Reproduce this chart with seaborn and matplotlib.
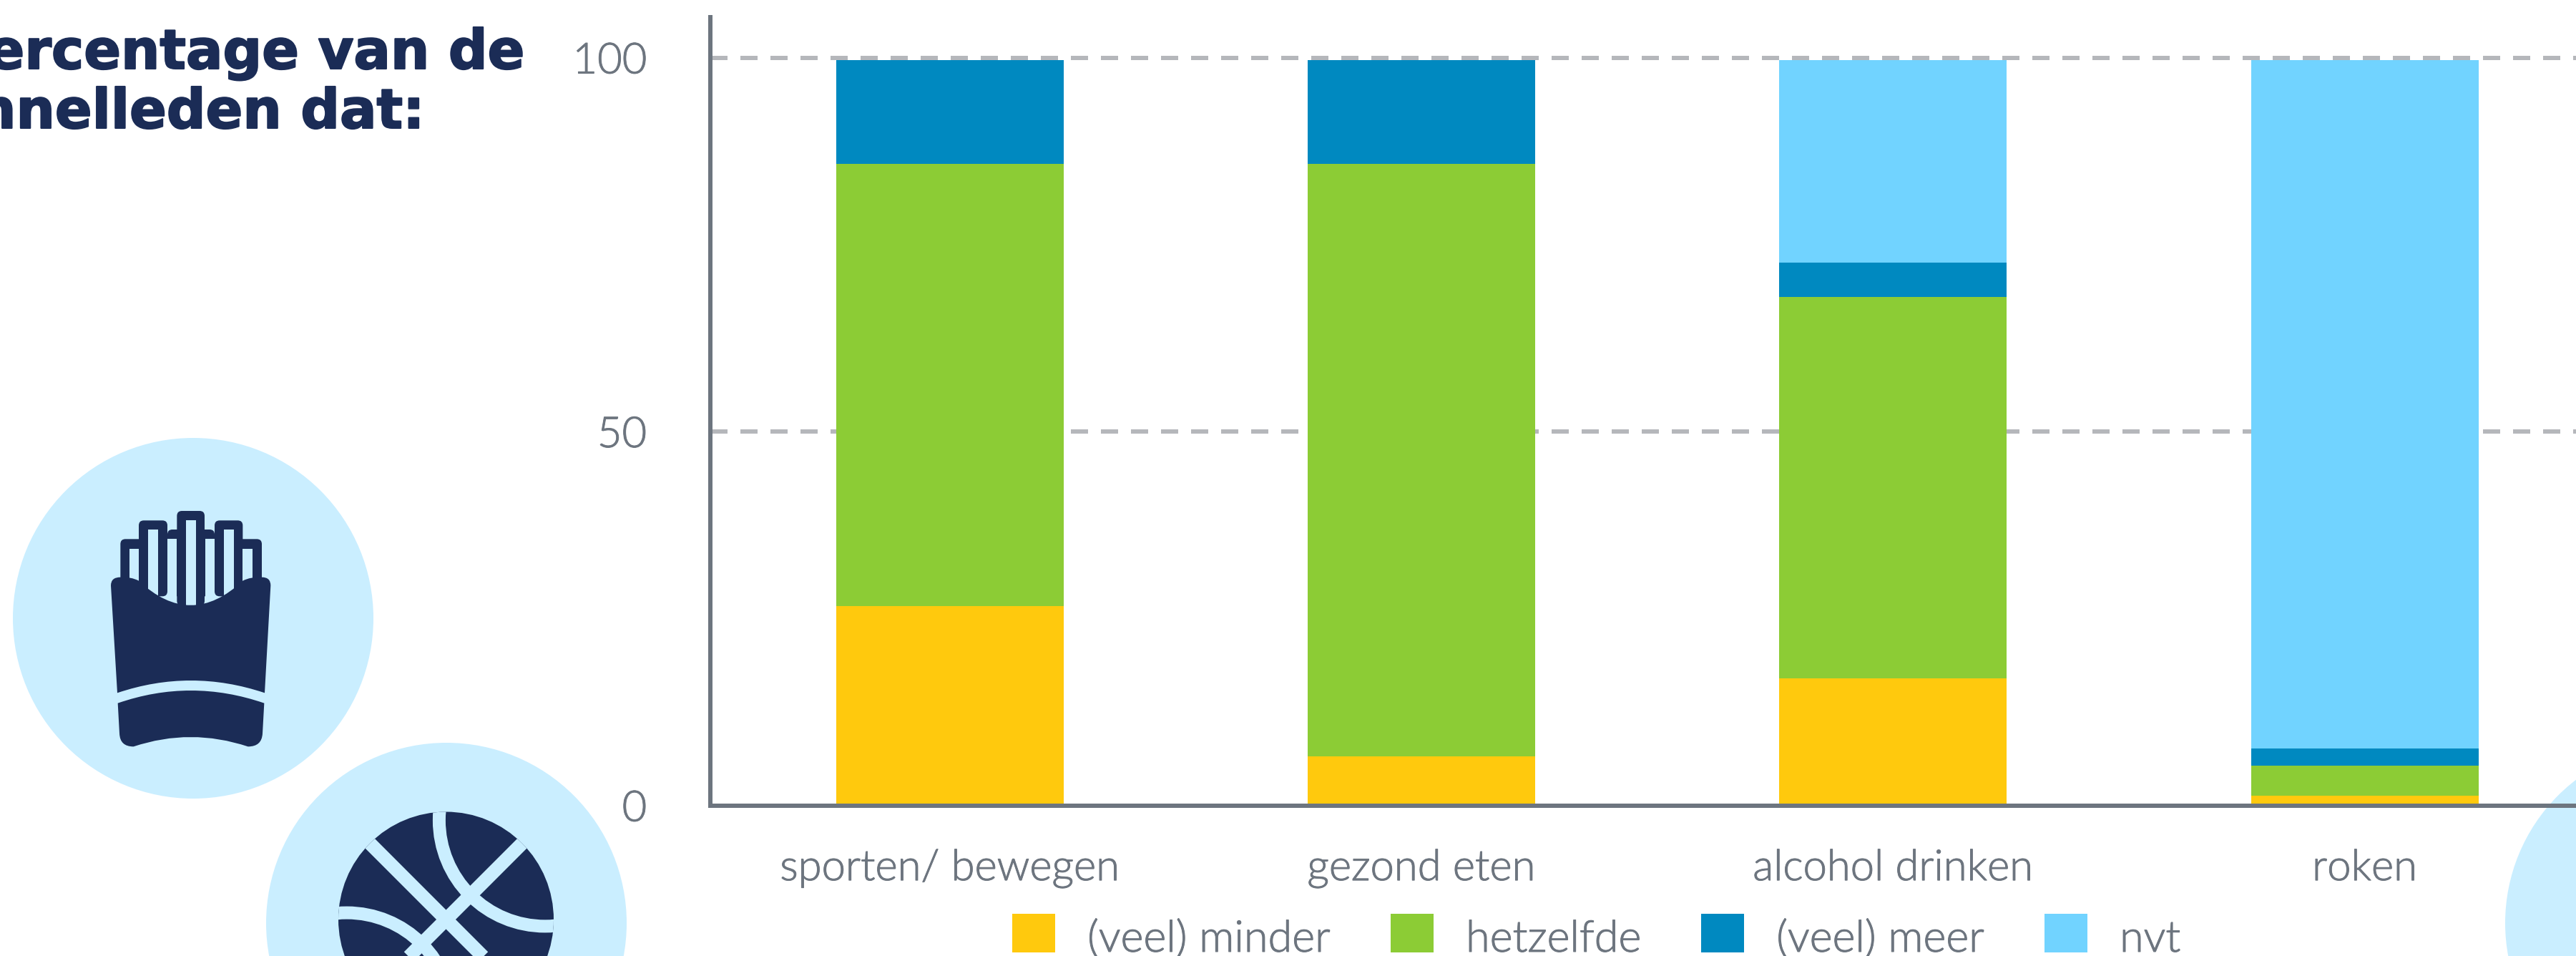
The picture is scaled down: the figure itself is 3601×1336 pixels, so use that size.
import numpy as np
import pandas as pd
import matplotlib
matplotlib.use("Agg")
import matplotlib.pyplot as plt
import matplotlib.patheffects as pe
from matplotlib.patches import Circle, Rectangle, FancyBboxPatch, PathPatch
from matplotlib.path import Path
import seaborn as sns

# values
categories = ["sporten/ bewegen", "gezond eten", "alcohol drinken", "roken"]
series_names = ["(veel) minder", "hetzelfde", "(veel) meer", "nvt"]
minder = [26.7, 6.6, 17.0, 1.3]
hetzelfde = [59.1, 79.2, 51.0, 4.1]
meer = [13.9, 13.9, 4.6, 2.3]
nvt = [0.0, 0.0, 27.1, 92.0]
y_ticks = [0, 50, 100]

series_colors = ["#FFC90D", "#8CCC35", "#0089C0", "#71D3FF"]
GREY = "#6D757F"
GRID = "#B5B7BB"
NAVY = "#1B2C56"
PALE = "#CAEEFF"
W, H = 3601, 1336

sns.set_theme(style="white")
plt.rcParams["font.family"] = ["Lato", "DejaVu Sans"]

df = pd.DataFrame({"categorie": categories, "minder": minder, "hetzelfde": hetzelfde,
                   "meer": meer, "nvt": nvt})
value_cols = ["minder", "hetzelfde", "meer", "nvt"]
cum = df[value_cols].cumsum(axis=1)

fig = plt.figure(figsize=(W / 100, H / 100), dpi=100, facecolor="white")

# background layer in pixel coordinates: circles, icons, title
bg = fig.add_axes([0, 0, 1, 1], zorder=0)
bg.set_xlim(0, W)
bg.set_ylim(H, 0)
bg.axis("off")

for cx, cy in [(270, 864), (624, 1290), (3754, 1290)]:
    bg.add_patch(Circle((cx, cy), 252, fc=PALE, ec="none"))


# fries icon, coordinates measured from a 3x crop starting at (120, 700)
def fr(x, y):
    return (120 + x / 3, 700 + y / 3)


def fr_rect(x0, y0, x1, y1, color, rounded=False):
    p0 = fr(x0, y0)
    w, h = (x1 - x0) / 3, (y1 - y0) / 3
    if rounded:
        bg.add_patch(FancyBboxPatch((p0[0] + 7, p0[1] + 7), w - 14, h - 14,
                                    boxstyle="round,pad=7,rounding_size=7", fc=color, ec="none"))
    else:
        bg.add_patch(Rectangle(p0, w, h, fc=color, ec="none"))


def fr_shape(verts, codes):
    pts = [fr(*v) for v in verts]
    bg.add_patch(PathPatch(Path(pts, codes), fc=NAVY, ec="none"))


M, L, C3 = Path.MOVETO, Path.LINETO, Path.CURVE3
for box in [(145, 160, 260, 400), (222, 82, 342, 400), (342, 120, 540, 400),
            (382, 42, 498, 440), (540, 82, 658, 400), (620, 160, 738, 400)]:
    fr_rect(*box, NAVY, rounded=True)
for box in [(183, 200, 222, 420), (262, 120, 302, 440), (342, 160, 382, 460),
            (421, 80, 461, 470), (500, 160, 540, 460), (579, 120, 620, 440),
            (658, 200, 698, 420)]:
    fr_rect(*box, PALE)

fr_shape([(105, 355), (105, 320), (145, 320), (190, 318), (222, 335), (440, 540), (658, 335),
          (690, 318), (738, 320), (775, 320), (775, 355), (750, 805), (440, 701), (132, 805),
          (105, 355)],
         [M, C3, C3, C3, C3, C3, C3, C3, C3, C3, C3, L, C3, C3, L])
fr_shape([(134, 848), (440, 742), (748, 848), (741, 975), (738, 1030), (680, 1030),
          (440, 950), (200, 1030), (143, 1030), (141, 975), (134, 848)],
         [M, C3, C3, L, C3, C3, C3, C3, C3, C3, L])

# basketball icon
ball = Circle((623.5, 1285), 150.5, fc=NAVY, ec="none")
bg.add_patch(ball)
for k in [1, -1]:
    line = bg.plot([623.5 - 160, 623.5 + 160], [1285 - k * 160, 1285 + k * 160],
                   color=PALE, lw=19 * 0.72, solid_capstyle="butt")[0]
    line.set_clip_path(ball)
for arc_x, arc_y in [(761.9, 1146.4), (484.8, 1423.6)]:
    arc = Circle((arc_x, arc_y), 148, fc="none", ec=PALE, lw=18 * 0.72)
    bg.add_patch(arc)
    arc.set_clip_path(ball)

# title is cut off by the left edge in the original
thick = [pe.withStroke(linewidth=1.5, foreground=NAVY)]
bg.text(733, 96, "Percentage van de", ha="right", va="baseline", fontsize=55,
        fontweight="bold", color=NAVY, family="DejaVu Sans", path_effects=thick)
bg.text(593, 179, "pannelleden dat:", ha="right", va="baseline", fontsize=55,
        fontweight="bold", color=NAVY, family="DejaVu Sans", path_effects=thick)

# main chart
ax = fig.add_axes([993 / W, (H - 1126) / H, (W - 993) / W, (1126 - 24) / H], zorder=1)
ax.patch.set_visible(False)

# stacked bars: draw the cumulative totals from high to low so each layer covers the next
for col, name, color in reversed(list(zip(value_cols, series_names, series_colors))):
    sns.barplot(x=df["categorie"], y=cum[col], color=color, saturation=1, width=0.4826,
                ax=ax, label=name, linewidth=0, zorder=2)

handles, labels = ax.get_legend_handles_labels()
ax.get_legend().remove()

ax.set_xlim(-0.508, 3.448)
ax.set_ylim(0, 105.45)
ax.set_xlabel("")
ax.set_ylabel("")
ax.set_yticks(y_ticks)
ax.yaxis.grid(True, color=GRID, lw=4.32, linestyle=(0, (4, 3)), zorder=1)
ax.xaxis.grid(False)
ax.set_axisbelow(True)
sns.despine(ax=ax)
for side in ["left", "bottom"]:
    ax.spines[side].set_linewidth(4.32)
    ax.spines[side].set_color(GREY)
    ax.spines[side].set_zorder(5)
ax.tick_params(axis="x", length=0, pad=44, labelsize=43, labelcolor=GREY)
ax.tick_params(axis="y", length=0, pad=64, labelsize=43, labelcolor=GREY)

# Lato Light comes out a bit thin, a hairline stroke brings it to the original weight
label_stroke = [pe.withStroke(linewidth=0.7, foreground=GREY)]
for lab in ax.get_xticklabels() + ax.get_yticklabels():
    lab.set_fontweight(300)
    lab.set_path_effects(label_stroke)

order = [labels.index(n) for n in series_names]
leg = fig.legend([handles[i] for i in order], [labels[i] for i in order], ncol=4, frameon=False,
                 loc="lower left", bbox_to_anchor=(1415 / W, 0 / H), bbox_transform=fig.transFigure,
                 handlelength=0.98, handleheight=1.0, handletextpad=0.74,
                 columnspacing=1.38, labelcolor=GREY, borderpad=0, borderaxespad=0,
                 prop={"size": 44, "weight": 300})
for t in leg.get_texts():
    t.set_y(-5)
    t.set_path_effects(label_stroke)

fig.savefig("out.png", dpi=100, facecolor="white")
